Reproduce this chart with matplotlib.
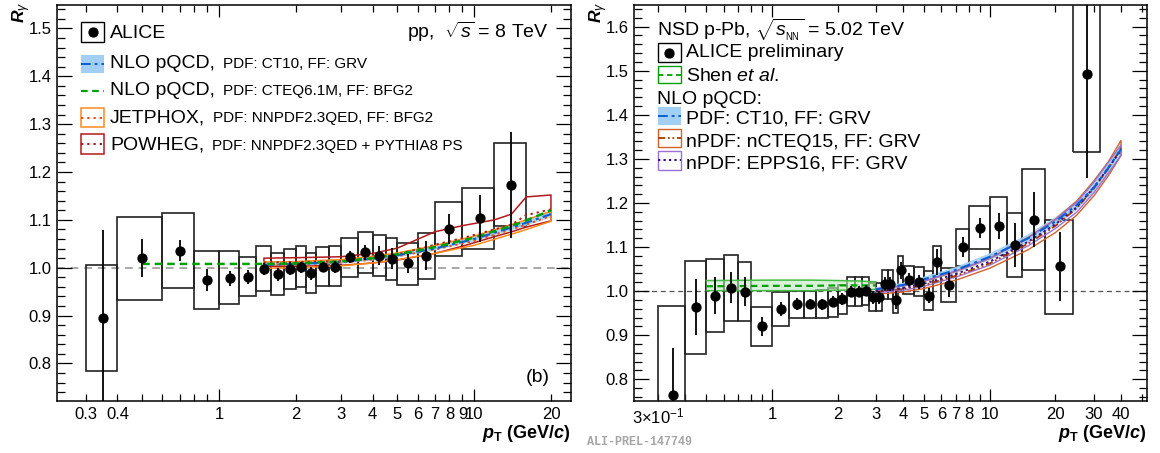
import numpy as np
import matplotlib
matplotlib.use("Agg")
import matplotlib.pyplot as plt
from matplotlib.patches import Rectangle
from matplotlib.lines import Line2D
from matplotlib.transforms import Affine2D
from matplotlib.ticker import FixedLocator, FuncFormatter, MultipleLocator

plt.rcParams['font.family'] = ['Liberation Sans', 'DejaVu Sans']
plt.rcParams['mathtext.fontset'] = 'custom'
plt.rcParams['mathtext.rm'] = 'Liberation Sans'
plt.rcParams['mathtext.it'] = 'Liberation Sans:italic'
plt.rcParams['mathtext.bf'] = 'Liberation Sans:bold:italic'
plt.rcParams['mathtext.sf'] = 'Liberation Sans:bold'

# ---------------- pp, sqrt(s) = 8 TeV ----------------
pp_edges = [0.3, 0.4, 0.6, 0.8, 1.0, 1.2, 1.4, 1.6, 1.8, 2.0, 2.2, 2.4, 2.7, 3.0,
            3.5, 4.0, 4.5, 5.0, 6.0, 7.0, 9.0, 12.0, 16.0]
pp_pt = [0.35, 0.5, 0.7, 0.9, 1.1, 1.3, 1.5, 1.7, 1.9, 2.1, 2.3, 2.55, 2.85, 3.25,
         3.75, 4.25, 4.75, 5.5, 6.5, 8.0, 10.5, 14.0]
pp_R = [0.896, 1.020, 1.036, 0.974, 0.978, 0.981, 0.997, 0.986, 0.998, 1.001, 0.988,
        1.002, 1.002, 1.022, 1.032, 1.025, 1.019, 1.009, 1.025, 1.081, 1.103, 1.173]
pp_stat = [0.183, 0.040, 0.021, 0.023, 0.016, 0.015, 0.013, 0.013, 0.013, 0.012, 0.013,
           0.010, 0.012, 0.013, 0.015, 0.020, 0.022, 0.020, 0.030, 0.032, 0.050, 0.110]
pp_sys_lo = [0.785, 0.933, 0.958, 0.914, 0.924, 0.940, 0.952, 0.943, 0.955, 0.959, 0.948,
             0.962, 0.962, 0.980, 0.988, 0.983, 0.974, 0.964, 0.976, 1.025, 1.039, 1.087]
pp_sys_hi = [1.005, 1.106, 1.114, 1.034, 1.034, 1.022, 1.045, 1.030, 1.040, 1.045, 1.030,
             1.043, 1.045, 1.063, 1.074, 1.068, 1.063, 1.052, 1.073, 1.138, 1.166, 1.260]

# NLO pQCD, CTEQ6.1M + BFG2
cteq_pt = [0.5, 1.0, 1.5, 2.0, 3.0, 4.0, 5.0, 7.0, 10.0, 15.0, 20.0]
cteq_R = [1.008, 1.008, 1.008, 1.009, 1.013, 1.020, 1.028, 1.043, 1.063, 1.093, 1.120]

# NLO pQCD, CT10 + GRV
ct10_pt = [1.5, 2.0, 3.0, 4.0, 5.0, 7.0, 10.0, 15.0, 20.0]
ct10_R = [1.006, 1.008, 1.012, 1.019, 1.026, 1.040, 1.060, 1.089, 1.112]
ct10_lo = [1.002, 1.004, 1.008, 1.015, 1.022, 1.036, 1.055, 1.083, 1.105]
ct10_hi = [1.010, 1.012, 1.016, 1.023, 1.030, 1.044, 1.065, 1.095, 1.119]

# JETPHOX, NNPDF2.3QED + BFG2
jet_pt = [1.5, 2.0, 3.0, 4.0, 5.0, 7.0, 10.0, 15.0, 20.0]
jet_R = [1.006, 1.007, 1.011, 1.017, 1.024, 1.038, 1.056, 1.085, 1.108]
jet_lo = [0.999, 1.000, 1.004, 1.010, 1.017, 1.030, 1.047, 1.075, 1.097]
jet_hi = [1.012, 1.013, 1.017, 1.024, 1.031, 1.046, 1.066, 1.095, 1.118]

# POWHEG, NNPDF2.3QED + PYTHIA8 PS
pow_pt = [1.5, 2.0, 3.0, 4.0, 5.0, 7.0, 9.0, 12.0, 14.0, 16.0, 20.0]
pow_R = [1.011, 1.012, 1.014, 1.020, 1.028, 1.048, 1.062, 1.080, 1.090, 1.110, 1.122]
pow_lo = [1.003, 1.003, 1.005, 1.010, 1.016, 1.030, 1.045, 1.065, 1.075, 1.085, 1.098]
pow_hi = [1.020, 1.021, 1.023, 1.030, 1.041, 1.075, 1.088, 1.100, 1.112, 1.148, 1.152]

# ---------------- p-Pb, sqrt(s_NN) = 5.02 TeV ----------------
pa_edges = [0.3, 0.4, 0.5, 0.6, 0.7, 0.8, 1.0, 1.2, 1.4, 1.6, 1.8, 2.0, 2.2, 2.4, 2.6,
            2.8, 3.0, 3.2, 3.4, 3.6, 3.8, 4.0, 4.5, 5.0, 5.5, 6.0, 7.0, 8.0, 10.0,
            12.0, 14.0, 18.0, 24.0, 32.0]
pa_pt = [0.35, 0.45, 0.55, 0.65, 0.75, 0.9, 1.1, 1.3, 1.5, 1.7, 1.9, 2.1, 2.3, 2.5, 2.7,
         2.9, 3.1, 3.3, 3.5, 3.7, 3.9, 4.25, 4.75, 5.25, 5.75, 6.5, 7.5, 9.0, 11.0,
         13.0, 16.0, 21.0, 28.0]
pa_R = [0.764, 0.964, 0.990, 1.008, 0.999, 0.920, 0.959, 0.971, 0.971, 0.970, 0.976,
        0.982, 0.999, 0.999, 1.001, 0.986, 0.986, 1.016, 1.016, 0.980, 1.047, 1.026,
        1.020, 0.989, 1.066, 1.014, 1.100, 1.144, 1.148, 1.105, 1.162, 1.056, 1.493]
pa_stat = [0.107, 0.063, 0.042, 0.036, 0.033, 0.022, 0.016, 0.013, 0.012, 0.012, 0.012,
           0.013, 0.012, 0.012, 0.012, 0.015, 0.015, 0.016, 0.016, 0.020, 0.020, 0.015,
           0.016, 0.017, 0.030, 0.027, 0.022, 0.023, 0.030, 0.050, 0.063, 0.078, 0.237]
pa_sys_lo = [0.560, 0.858, 0.908, 0.933, 0.933, 0.876, 0.922, 0.939, 0.939, 0.938, 0.942,
             0.948, 0.967, 0.967, 0.969, 0.956, 0.954, 0.982, 0.982, 0.950, 1.014, 0.994,
             0.988, 0.957, 1.035, 0.976, 1.056, 1.095, 1.081, 1.032, 1.047, 0.949, 1.316]
pa_sys_hi = [0.967, 1.069, 1.073, 1.082, 1.065, 0.965, 0.998, 1.001, 1.001, 1.003, 1.007,
             1.014, 1.032, 1.033, 1.032, 1.018, 1.018, 1.047, 1.047, 1.011, 1.080, 1.057,
             1.054, 1.045, 1.103, 1.053, 1.142, 1.194, 1.213, 1.178, 1.277, 1.162, 1.680]

# Shen et al.
shen_pt = [0.5, 1.0, 1.5, 2.0, 2.5, 3.0]
shen_R = [1.011, 1.012, 1.012, 1.013, 1.013, 1.013]
shen_lo = [1.001, 1.001, 1.001, 1.002, 1.003, 1.004]
shen_hi = [1.024, 1.025, 1.025, 1.024, 1.023, 1.021]

# NLO pQCD for p-Pb
pa_th_pt = [3.0, 4.0, 5.0, 7.0, 10.0, 15.0, 20.0, 25.0, 30.0, 35.0, 40.0]
ct10p_R = [1.004, 1.014, 1.027, 1.048, 1.078, 1.120, 1.158, 1.195, 1.235, 1.280, 1.322]
ct10p_lo = [0.999, 1.009, 1.021, 1.041, 1.070, 1.111, 1.148, 1.184, 1.224, 1.268, 1.310]
ct10p_hi = [1.009, 1.019, 1.033, 1.055, 1.086, 1.129, 1.168, 1.206, 1.246, 1.292, 1.334]
ncteq_R = [0.999, 1.005, 1.014, 1.035, 1.063, 1.108, 1.148, 1.188, 1.233, 1.278, 1.325]
ncteq_lo = [0.993, 0.998, 1.006, 1.025, 1.052, 1.094, 1.133, 1.172, 1.216, 1.262, 1.308]
ncteq_hi = [1.005, 1.012, 1.022, 1.045, 1.074, 1.122, 1.163, 1.204, 1.250, 1.294, 1.342]
epps_R = [1.000, 1.007, 1.017, 1.039, 1.067, 1.112, 1.152, 1.190, 1.235, 1.280, 1.320]
epps_lo = [0.996, 1.002, 1.011, 1.032, 1.059, 1.103, 1.142, 1.179, 1.223, 1.268, 1.308]
epps_hi = [1.004, 1.012, 1.023, 1.046, 1.075, 1.121, 1.162, 1.201, 1.247, 1.292, 1.332]

# ---------------- styling ----------------
C_BLUE = '#0a5fd0'
C_BLUEFILL = '#a3cff5'
C_GREEN = '#00a000'
C_GREENLT = '#44bb44'
C_ORANGE = '#ff8a1c'
C_ORANGE_C = '#ff4a00'
C_RED = '#b3191c'
C_BROWN = '#d0622c'
C_BROWN_C = '#a63a00'
C_PURPLE = '#9a70d6'
C_PURPLE_C = '#3a0a8a'

W, H = 1160, 453
fig = plt.figure(figsize=(W / 100, H / 100), dpi=100)
pix = Affine2D().scale(1.0 / W, -1.0 / H).translate(0, 1) + fig.transFigure


def rect(x0, y0, x1, y1):
    return [x0 / W, 1 - y1 / H, (x1 - x0) / W, (y1 - y0) / H]


axL = fig.add_axes(rect(57, 5, 571, 401))
axR = fig.add_axes(rect(634, 5, 1147, 401))

TICK_FS = 12


def style_axes(ax, xlim, ylim, labelled, minor_x):
    ax.set_xscale('log')
    ax.set_xlim(*xlim)
    ax.set_ylim(*ylim)
    for s in ax.spines.values():
        s.set_linewidth(1.1)
    ax.xaxis.set_major_locator(FixedLocator([1.0, 10.0]))
    ax.xaxis.set_minor_locator(FixedLocator(minor_x))
    ax.xaxis.set_major_formatter(FuncFormatter(lambda v, p: '%g' % v))
    ax.xaxis.set_minor_formatter(FuncFormatter(lambda v, p: labelled.get(round(v, 3), '')))
    ax.yaxis.set_major_locator(MultipleLocator(0.1))
    ax.yaxis.set_minor_locator(MultipleLocator(0.02))
    ax.yaxis.set_major_formatter(FuncFormatter(lambda v, p: '%.1f' % v))
    ax.tick_params(axis='x', which='major', direction='in', top=True, bottom=True,
                   length=8.5, width=0.9, labelsize=TICK_FS, pad=4)
    ax.tick_params(axis='x', which='minor', direction='in', top=True, bottom=True,
                   length=4.8, width=0.9, labelsize=TICK_FS, pad=4)
    ax.tick_params(axis='y', which='major', direction='in', left=True, right=True,
                   length=10.5, width=0.9, labelsize=TICK_FS, pad=4)
    ax.tick_params(axis='y', which='minor', direction='in', left=True, right=True,
                   length=5.5, width=0.9)


def draw_data(ax, edges, pt, R, stat, lo, hi):
    for e0, e1, y0, y1 in zip(edges[:-1], edges[1:], lo, hi):
        ax.add_patch(Rectangle((e0, y0), e1 - e0, y1 - y0, fill=False,
                               ec='#222222', lw=1.2, zorder=3))
    ax.errorbar(pt, R, yerr=stat, fmt='o', color='black', ms=6.4,
                elinewidth=1.3, capsize=0, zorder=6)


def outline_band(ax, x, lo, hi, color, lw=1.1, face='none', alpha=1.0, z=4):
    xs = list(x) + list(x)[::-1]
    ys = list(lo) + list(hi)[::-1]
    if face != 'none':
        ax.fill(xs, ys, facecolor=face, edgecolor='none', alpha=alpha, zorder=z)
    else:
        ax.fill(xs, ys, facecolor='none', edgecolor=color, lw=lw, zorder=z)


# ---------------- left panel ----------------
style_axes(axL, (0.2317, 23.97), (0.7216, 1.549),
           {0.3: '0.3', 0.4: '0.4', 2.0: '2', 3.0: '3', 4.0: '4', 5.0: '5', 6.0: '6',
            7.0: '7', 8.0: '8', 9.0: '9', 20.0: '20'},
           [0.3, 0.4, 0.5, 0.6, 0.7, 0.8, 0.9, 2, 3, 4, 5, 6, 7, 8, 9, 20])
axL.axhline(1.0, color='#a8a8a8', lw=1.4, dashes=(4, 3), zorder=1)
draw_data(axL, pp_edges, pp_pt, pp_R, pp_stat, pp_sys_lo, pp_sys_hi)

outline_band(axL, pow_pt, pow_lo, pow_hi, C_RED, lw=1.1, z=4)
axL.plot(pow_pt, pow_R, color=C_RED, lw=1.4, dashes=(1.2, 2), zorder=4.5)
outline_band(axL, ct10_pt, ct10_lo, ct10_hi, None, face=C_BLUEFILL, alpha=0.9, z=3.5)
outline_band(axL, jet_pt, jet_lo, jet_hi, C_ORANGE, lw=1.1, z=4)
axL.plot(jet_pt, jet_R, color=C_ORANGE_C, lw=1.4, dashes=(1.2, 2), zorder=4.5)
axL.plot(ct10_pt, ct10_R, color=C_BLUE, lw=1.5, dashes=(5, 2, 1.5, 2), zorder=4.6)
axL.plot(cteq_pt, cteq_R, color=C_GREEN, lw=1.8, dashes=(3, 2), zorder=4.7)

# ---------------- right panel ----------------
style_axes(axR, (0.2330, 52.6), (0.7508, 1.649),
           {0.3: r'$3{\times}10^{-1}$', 2.0: '2', 3.0: '3', 4.0: '4', 5.0: '5', 6.0: '6',
            7.0: '7', 8.0: '8', 20.0: '20', 30.0: '30', 40.0: '40'},
           [0.3, 0.4, 0.5, 0.6, 0.7, 0.8, 0.9, 2, 3, 4, 5, 6, 7, 8, 9, 20, 30, 40, 50])
axR.axhline(1.0, color='#555555', lw=0.9, dashes=(4, 3), zorder=1)
draw_data(axR, pa_edges, pa_pt, pa_R, pa_stat, pa_sys_lo, pa_sys_hi)

outline_band(axR, shen_pt, shen_lo, shen_hi, None, face='#bfe8bf', alpha=0.6, z=3.5)
axR.plot(shen_pt, shen_hi, color=C_GREENLT, lw=1.1, zorder=4)
axR.plot(shen_pt, shen_lo, color=C_GREENLT, lw=1.1, zorder=4)
axR.plot(shen_pt, shen_R, color=C_GREEN, lw=1.6, dashes=(3, 2), zorder=4.5)

outline_band(axR, pa_th_pt, ct10p_lo, ct10p_hi, None, face=C_BLUEFILL, alpha=0.9, z=3.5)
outline_band(axR, pa_th_pt, ncteq_lo, ncteq_hi, C_BROWN, lw=1.0, z=4)
outline_band(axR, pa_th_pt, epps_lo, epps_hi, C_PURPLE, lw=1.0, z=4.1)
axR.plot(pa_th_pt, ncteq_R, color=C_BROWN_C, lw=1.3, dashes=(4, 1.5, 1, 1.5, 1, 1.5), zorder=4.5)
axR.plot(pa_th_pt, epps_R, color=C_PURPLE_C, lw=1.4, dashes=(1.2, 1.6), zorder=4.6)
axR.plot(pa_th_pt, ct10p_R, color=C_BLUE, lw=1.5, dashes=(5, 2, 1.5, 2), zorder=4.7)

# ---------------- axis titles ----------------
for x_right in (571, 1147):
    fig.text(x_right, 438, r'$\mathbf{p}_{\mathsf{T}}$ (GeV/$\mathbf{c}$)', transform=pix,
             ha='right', va='baseline', fontsize=13, fontweight='bold')
for x_left in (33, 610):
    fig.text(x_left, 2, r'$\mathbf{R}_{\gamma}$', transform=pix, rotation=90,
             ha='right', va='top', fontsize=12.5)

# ---------------- legends ----------------
renderer = fig.canvas.get_renderer()
BIG = 14
SMALL = 11


def legend_box(x0, y0, x1, y1, edge=None, face=None, lw=1.0):
    fig.add_artist(Rectangle((x0, y0), x1 - x0, y1 - y0, transform=pix,
                             facecolor=face if face else 'none',
                             edgecolor=edge if edge else 'none', lw=lw))


def legend_line(x0, x1, y, color, lw, dashes):
    fig.add_artist(Line2D([x0, x1], [y, y], transform=pix, color=color, lw=lw,
                          dashes=dashes))


def two_part(x, y, big, small, gap=8):
    t = fig.text(x, y, big, transform=pix, ha='left', va='baseline', fontsize=BIG)
    bb = t.get_window_extent(renderer)
    fig.text(bb.x1 + gap, y, small, transform=pix, ha='left', va='baseline', fontsize=SMALL)


# left legend
lx0, lx1 = 81, 104
legend_box(lx0, 22, lx1, 42, edge='black', lw=1.0)
fig.add_artist(Line2D([(lx0 + lx1) / 2], [32], transform=pix, marker='o', ms=6.4,
                      color='black', lw=0))
fig.text(110, 37.7, 'ALICE', transform=pix, ha='left', va='baseline', fontsize=BIG)

legend_box(lx0, 55, lx1, 73, face=C_BLUEFILL)
legend_line(lx0, lx1, 64, C_BLUE, 1.4, (5, 2, 1.5, 2))
two_part(110, 68.3, 'NLO pQCD,', 'PDF: CT10, FF: GRV')

legend_line(lx0, lx1, 90.5, C_GREEN, 1.6, (3, 2))
two_part(110, 95, 'NLO pQCD,', 'PDF: CTEQ6.1M, FF: BFG2')

legend_box(lx0, 108, lx1, 127, edge=C_ORANGE, lw=1.1)
legend_line(lx0, lx1, 117.5, C_ORANGE_C, 1.4, (1.2, 2))
two_part(110, 122.3, 'JETPHOX,', 'PDF: NNPDF2.3QED, FF: BFG2')

legend_box(lx0, 134, lx1, 154, edge=C_RED, lw=1.1)
legend_line(lx0, lx1, 144, C_RED, 1.4, (1.2, 2))
two_part(110, 150, 'POWHEG,', 'PDF: NNPDF2.3QED + PYTHIA8 PS')

fig.text(549, 37.7, r'pp,  $\sqrt{s}$ = 8 TeV', transform=pix, ha='right', va='baseline',
         fontsize=BIG)
fig.text(550, 382, '(b)', transform=pix, ha='right', va='baseline', fontsize=BIG)

# right legend
RF = 14
rx0, rx1 = 658, 680.5
fig.text(657, 36, r'NSD p-Pb, $\sqrt{s_{_{\mathrm{NN}}}}$ = 5.02 TeV', transform=pix,
         ha='left', va='baseline', fontsize=RF)
legend_box(rx0, 43, rx1, 62, edge='black', lw=1.0)
fig.add_artist(Line2D([(rx0 + rx1) / 2], [52.5], transform=pix, marker='o', ms=6.4,
                      color='black', lw=0))
fig.text(686, 57.3, 'ALICE preliminary', transform=pix, ha='left', va='baseline', fontsize=RF)

legend_box(rx0, 66, rx1, 83, edge=C_GREEN, lw=1.0)
legend_line(rx0, rx1, 74.5, C_GREEN, 1.3, (3, 2))
fig.text(686, 80.7, r'Shen $\mathit{et\ al.}$', transform=pix, ha='left', va='baseline',
         fontsize=RF)

fig.text(657, 104, 'NLO pQCD:', transform=pix, ha='left', va='baseline', fontsize=RF)

legend_box(rx0, 107, rx1, 125, face=C_BLUEFILL)
legend_line(rx0, rx1, 116, C_BLUE, 1.4, (5, 2, 1.5, 2))
fig.text(686, 124, 'PDF: CT10, FF: GRV', transform=pix, ha='left', va='baseline', fontsize=RF)

legend_box(rx0, 128.5, rx1, 147, edge=C_BROWN, lw=1.0)
legend_line(rx0, rx1, 137.7, C_BROWN_C, 1.3, (4, 1.5, 1, 1.5, 1, 1.5))
fig.text(686, 147.3, 'nPDF: nCTEQ15, FF: GRV', transform=pix, ha='left', va='baseline',
         fontsize=RF)

legend_box(rx0, 150.5, rx1, 170, edge=C_PURPLE, lw=1.0)
legend_line(rx0, rx1, 160, C_PURPLE_C, 1.4, (1.2, 1.6))
fig.text(686, 168.3, 'nPDF: EPPS16, FF: GRV', transform=pix, ha='left', va='baseline',
         fontsize=RF)

fig.text(587, 445, 'ALI-PREL-147749', transform=pix, ha='left', va='baseline',
         fontsize=8.5, family='Liberation Mono', fontweight='bold', color='#a6a6a6')

fig.savefig('out.png', dpi=100)
